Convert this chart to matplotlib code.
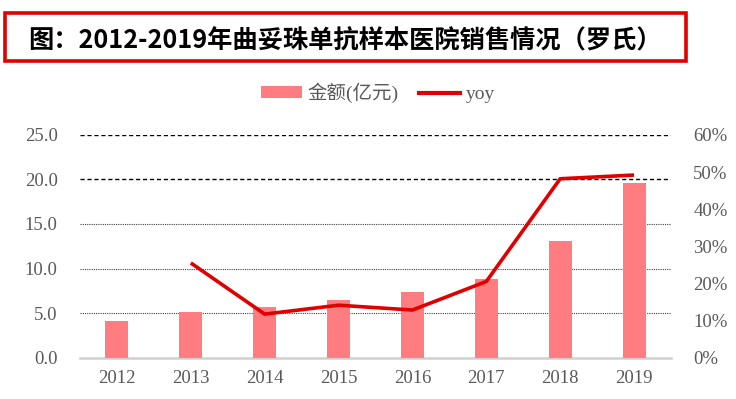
import matplotlib
matplotlib.use("Agg")
import matplotlib.pyplot as plt
from matplotlib.patches import Rectangle
from matplotlib.lines import Line2D
from matplotlib.patches import Patch
import numpy as np

plt.rcParams['font.family'] = ['Liberation Serif', 'Noto Sans CJK SC', 'DejaVu Sans']

years = ['2012', '2013', '2014', '2015', '2016', '2017', '2018', '2019']
sales = [4.1, 5.1, 5.7, 6.5, 7.4, 8.8, 13.1, 19.6]          # 金额(亿元)
yoy_years = ['2013', '2014', '2015', '2016', '2017', '2018', '2019']
yoy = [0.255, 0.117, 0.141, 0.128, 0.205, 0.482, 0.492]    # yoy
left_ticks = [0, 5, 10, 15, 20, 25]
right_ticks = [0, 0.1, 0.2, 0.3, 0.4, 0.5, 0.6]

W, H = 736, 399
fig = plt.figure(figsize=(W / 100, H / 100), dpi=100)
ax = fig.add_axes([80 / W, 1 - 357.5 / H, (671 - 80) / W, (357.5 - 135) / H])
ax2 = ax.twinx()

x = np.arange(len(years))
bar_color = '#FF7C80'
line_color = '#E00000'
tick_color = '#595959'

ax.bar(x, sales, width=0.31, color=bar_color, zorder=3)
ax.set_xlim(-0.5, len(years) - 0.5)
ax.set_ylim(0, 25)
ax.set_yticks(left_ticks)
ax.set_yticklabels([f'{v:.1f}' for v in left_ticks])
ax.set_xticks(x)
ax.set_xticklabels(years)

# gridlines
for v in left_ticks[1:]:
    if v >= 20:
        ax.axhline(v, color='#000000', lw=1.0, ls=(0, (3, 2)), zorder=1)
    else:
        ax.axhline(v, color='#404040', lw=0.8, ls=(0, (1, 1)), zorder=1)

yx = [years.index(y) for y in yoy_years]
ax2.plot(yx, yoy, color=line_color, lw=2.6, solid_joinstyle='round',
         solid_capstyle='butt', zorder=4)
ax2.set_ylim(0, 0.6)
ax2.set_yticks(right_ticks)
ax2.set_yticklabels([f'{int(round(v * 100))}%' for v in right_ticks])

for a in (ax, ax2):
    for s in ('top', 'left', 'right'):
        a.spines[s].set_visible(False)
    a.spines['bottom'].set_visible(False)
    a.tick_params(length=0, labelsize=13.5, colors=tick_color)

ax.spines['bottom'].set_visible(True)
ax.spines['bottom'].set_color('#D0D0D0')
ax.spines['bottom'].set_linewidth(1.8)
ax.tick_params(axis='y', pad=16)
ax.tick_params(axis='x', pad=9)
ax2.tick_params(axis='y', pad=16)

# legend
handles = [Patch(facecolor=bar_color, edgecolor='none', label='金额(亿元)'),
           Line2D([0], [0], color=line_color, lw=3, label='yoy')]
leg = fig.legend(handles=handles, loc='center', bbox_to_anchor=(378 / W, 1 - 93 / H),
                 ncol=2, frameon=False, fontsize=14, handlelength=2.1,
                 handleheight=0.6, handletextpad=0.28, columnspacing=1.05)
for t in leg.get_texts():
    t.set_color(tick_color)

# title box
fig.patches.append(Rectangle((5 / W, 1 - 61 / H), (686 - 5) / W, (61 - 13) / H,
                             transform=fig.transFigure, fill=False,
                             edgecolor='#E00000', lw=2.6))
fig.text(28 / W, 1 - 41 / H, '图：2012-2019年曲妥珠单抗样本医院销售情况（罗氏）',
         family=['Noto Sans CJK SC', 'DejaVu Sans'], fontweight='bold',
         fontsize=18.2, color='black', ha='left', va='center')

fig.savefig('out.png', dpi=100)
